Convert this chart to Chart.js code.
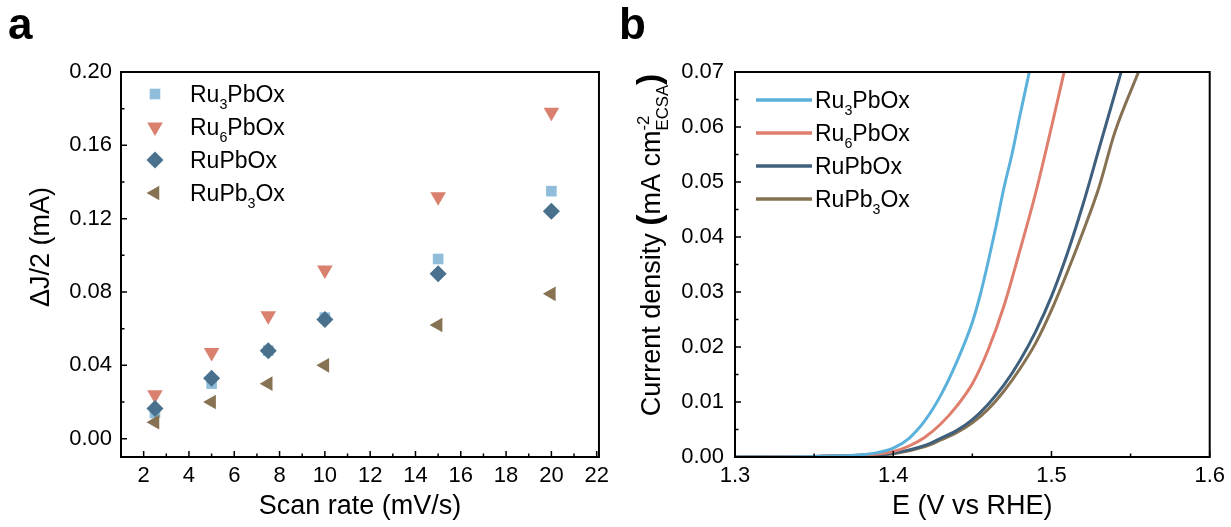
<!DOCTYPE html>
<html>
<head>
<meta charset="utf-8">
<script src="https://cdn.jsdelivr.net/npm/chart.js@4/dist/chart.umd.min.js"></script>
<style>
  html, body { margin: 0; padding: 0; background: #fff; }
  #wrap { position: relative; width: 1231px; height: 527px; }
  canvas { position: absolute; top: 0; }
  #chartA { left: 0; }
  #chartB { left: 615px; }
</style>
</head>
<body>
<div id="wrap">
  <canvas id="chartA" width="615" height="527"></canvas>
  <canvas id="chartB" width="616" height="527"></canvas>
</div>
<script>
// ---- data, panel a (double layer charging current vs scan rate) ----
const scanRates = [2.5, 5, 7.5, 10, 15, 20];
const ru3PbOxDJ = [0.014, 0.030, 0.048, 0.066, 0.098, 0.135];
const ru6PbOxDJ = [0.024, 0.047, 0.067, 0.092, 0.132, 0.178];
const ruPbOxDJ = [0.0165, 0.033, 0.048, 0.065, 0.090, 0.124];
const ruPb3OxDJ = [0.009, 0.020, 0.030, 0.040, 0.062, 0.079];
const seriesNames = ["Ru3PbOx", "Ru6PbOx", "RuPbOx", "RuPb3Ox"];
const xTicksA = [2, 4, 6, 8, 10, 12, 14, 16, 18, 20, 22];
const yTicksA = [0, 0.04, 0.08, 0.12, 0.16, 0.20];

// ---- data, panel b (ECSA normalised LSV) ----
const ru3PbOxE = [1.30, 1.35, 1.38, 1.39, 1.40, 1.41, 1.42, 1.43, 1.44, 1.45, 1.455, 1.46, 1.465, 1.47, 1.475, 1.48, 1.486];
const ru3PbOxJ = [0, 0.0001, 0.0004, 0.0008, 0.0016, 0.0034, 0.0066, 0.0112, 0.0172, 0.0245, 0.0295, 0.0355, 0.042, 0.049, 0.055, 0.062, 0.070];
const ru6PbOxE = [1.30, 1.35, 1.38, 1.40, 1.41, 1.42, 1.43, 1.44, 1.45, 1.46, 1.47, 1.48, 1.49, 1.50, 1.508];
const ru6PbOxJ = [0, 0.0001, 0.0003, 0.001, 0.002, 0.0036, 0.006, 0.0092, 0.0133, 0.0195, 0.0275, 0.0375, 0.048, 0.060, 0.070];
const ruPbOxE = [1.30, 1.35, 1.38, 1.40, 1.42, 1.43, 1.44, 1.45, 1.46, 1.47, 1.48, 1.49, 1.50, 1.51, 1.52, 1.53, 1.544];
const ruPbOxJ = [0, 0.0001, 0.0003, 0.0007, 0.0021, 0.0034, 0.0048, 0.0068, 0.0096, 0.0131, 0.0175, 0.0228, 0.0292, 0.037, 0.046, 0.056, 0.070];
const ruPb3OxE = [1.30, 1.35, 1.38, 1.40, 1.42, 1.43, 1.44, 1.45, 1.46, 1.47, 1.48, 1.49, 1.50, 1.51, 1.52, 1.53, 1.54, 1.555];
const ruPb3OxJ = [0, 0.0001, 0.0003, 0.0006, 0.0019, 0.0031, 0.0044, 0.0062, 0.0087, 0.012, 0.016, 0.0207, 0.0267, 0.0336, 0.041, 0.049, 0.059, 0.070];
const xTicksB = [1.3, 1.4, 1.5, 1.6];
const yTicksB = [0, 0.01, 0.02, 0.03, 0.04, 0.05, 0.06, 0.07];

// ---- styles ----
const FONT = "'Liberation Sans', Arial, Helvetica, sans-serif";
const markerColors = ["#8fbdda", "#d9806e", "#49708d", "#877353"];
const lineColors = ["#5ab1db", "#df7e6c", "#3f607d", "#867252"];
const markers = [
  { pointStyle: "rect", rotation: 0, radius: 7.5 },
  { pointStyle: "triangle", rotation: 180, radius: 9 },
  { pointStyle: "rectRot", rotation: 0, radius: 8.5 },
  { pointStyle: "triangle", rotation: 270, radius: 8.5 }
];

// text with sub/superscripts; baseline at y
function drawRich(ctx, parts, x, y, size, align) {
  const placed = [];
  let cx = 0, total = 0, prevStart = 0;
  parts.forEach(p => {
    const small = p.kind === "sub" || p.kind === "sup";
    const fs = small ? size * 0.62 : size * (p.scale || 1);
    ctx.font = (p.bold ? "bold " : "") + fs + "px " + FONT;
    const start = p.stack ? prevStart : cx;
    const w = ctx.measureText(p.t).width;
    const dy = p.kind === "sub" ? size * 0.3 : p.kind === "sup" ? -size * 0.42 : 0;
    placed.push({ t: p.t, font: ctx.font, x: start, dy });
    prevStart = start;
    cx = Math.max(cx, start + w);
    total = cx;
  });
  const x0 = align === "center" ? x - total / 2 : x;
  ctx.textAlign = "left";
  ctx.textBaseline = "alphabetic";
  placed.forEach(p => {
    ctx.font = p.font;
    ctx.fillText(p.t, x0 + p.x, y + p.dy);
  });
}

function nameParts(name) {
  return name.split(/(\d+)/).filter(Boolean).map(t => ({ t, kind: /^\d+$/.test(t) ? "sub" : "n" }));
}

function midpoints(list) {
  const out = [];
  for (let i = 0; i < list.length - 1; i++) out.push((list[i] + list[i + 1]) / 2);
  return out;
}

function framePlugin(cfg) {
  return {
    id: "frame",
    afterDraw(chart) {
      const { ctx, chartArea: a } = chart;
      const x = chart.scales.x, y = chart.scales.y;
      ctx.save();
      ctx.strokeStyle = "#000";
      ctx.lineWidth = 2;
      ctx.strokeRect(a.left, a.top, a.right - a.left, a.bottom - a.top);

      // inward ticks on bottom and left
      ctx.lineWidth = 1.5;
      ctx.beginPath();
      const tickX = (v, len) => { const p = x.getPixelForValue(v); ctx.moveTo(p, a.bottom); ctx.lineTo(p, a.bottom - len); };
      const tickY = (v, len) => { const p = y.getPixelForValue(v); ctx.moveTo(a.left, p); ctx.lineTo(a.left + len, p); };
      cfg.xMajor.forEach(v => tickX(v, 6));
      cfg.xMinor.forEach(v => tickX(v, 3.5));
      cfg.yMajor.forEach(v => tickY(v, 6));
      cfg.yMinor.forEach(v => tickY(v, 3.5));
      ctx.stroke();

      ctx.fillStyle = "#000";
      // x title
      ctx.font = "27px " + FONT;
      ctx.textAlign = "center";
      ctx.textBaseline = "middle";
      ctx.fillText(cfg.xTitle, (a.left + a.right) / 2, 507);
      // y title
      ctx.save();
      ctx.translate(cfg.yTitleX, cfg.yTitleY);
      ctx.rotate(-Math.PI / 2);
      drawRich(ctx, cfg.yTitle, 0, 9, 27, "center");
      ctx.restore();

      // legend
      chart.data.datasets.forEach((ds, i) => {
        const ly = cfg.legendY0 + cfg.legendDy * i;
        if (cfg.legendKind === "marker") {
          ctx.fillStyle = ds.backgroundColor;
          Chart.helpers.drawPoint(ctx, { pointStyle: ds.pointStyle, rotation: ds.rotation, radius: ds.pointRadius, borderWidth: 0 }, cfg.legendX, ly);
        } else {
          ctx.strokeStyle = ds.borderColor;
          ctx.lineWidth = 3.5;
          ctx.beginPath();
          ctx.moveTo(cfg.legendX, ly);
          ctx.lineTo(cfg.legendX + 56, ly);
          ctx.stroke();
        }
        ctx.fillStyle = "#000";
        drawRich(ctx, nameParts(ds.label), cfg.legendTextX, ly + 8, 23, "left");
      });

      // panel letter
      ctx.font = "bold 44px " + FONT;
      ctx.textAlign = "left";
      ctx.textBaseline = "alphabetic";
      ctx.fillText(cfg.letter, cfg.letterX, 39);
      ctx.restore();
    }
  };
}

const tickFont = { family: FONT, size: 22 };

// ---------- panel a ----------
const dataA = [ru3PbOxDJ, ru6PbOxDJ, ruPbOxDJ, ruPb3OxDJ];
new Chart(document.getElementById("chartA"), {
  type: "scatter",
  data: {
    datasets: seriesNames.map((name, i) => ({
      label: name,
      data: scanRates.map((r, k) => ({ x: r, y: dataA[i][k] })),
      pointStyle: markers[i].pointStyle,
      rotation: markers[i].rotation,
      pointRadius: markers[i].radius,
      pointHoverRadius: markers[i].radius,
      backgroundColor: markerColors[i],
      borderColor: markerColors[i],
      borderWidth: 0,
      order: 4 - i
    }))
  },
  options: {
    responsive: false,
    animation: false,
    events: [],
    layout: { padding: { left: 0, top: 72, right: 15, bottom: 0 } },
    plugins: { legend: { display: false }, tooltip: { enabled: false } },
    scales: {
      x: {
        type: "linear", min: 1, max: 22.1,
        afterBuildTicks: s => { s.ticks = xTicksA.map(v => ({ value: v })); },
        afterFit: s => { s.height = 70; },
        grid: { display: false, drawTicks: false },
        border: { display: false },
        ticks: { padding: 6, font: tickFont, color: "#000", maxRotation: 0 }
      },
      y: {
        type: "linear", min: -0.01, max: 0.20,
        afterBuildTicks: s => { s.ticks = yTicksA.map(v => ({ value: v })); },
        afterFit: s => { s.width = 121; },
        grid: { display: false, drawTicks: false },
        border: { display: false },
        ticks: { padding: 9, font: tickFont, color: "#000", callback: v => v.toFixed(2) }
      }
    }
  },
  plugins: [framePlugin({
    xMajor: xTicksA, xMinor: [1].concat(midpoints(xTicksA)),
    yMajor: yTicksA, yMinor: midpoints(yTicksA),
    xTitle: "Scan rate (mV/s)",
    yTitle: [{ t: "\u0394J/2 (mA)", kind: "n" }], yTitleX: 40, yTitleY: 247,
    legendKind: "marker", legendX: 155, legendTextX: 190, legendY0: 94, legendDy: 33,
    letter: "a", letterX: 8
  })]
});

// ---------- panel b ----------
const seriesB = [[ru3PbOxE, ru3PbOxJ], [ru6PbOxE, ru6PbOxJ], [ruPbOxE, ruPbOxJ], [ruPb3OxE, ruPb3OxJ]];
new Chart(document.getElementById("chartB"), {
  type: "line",
  data: {
    datasets: seriesNames.map((name, i) => ({
      label: name,
      data: seriesB[i][0].map((e, k) => ({ x: e, y: seriesB[i][1][k] })),
      borderColor: lineColors[i],
      backgroundColor: lineColors[i],
      borderWidth: 3,
      pointRadius: 0,
      cubicInterpolationMode: "monotone",
      fill: false
    }))
  },
  options: {
    responsive: false,
    animation: false,
    events: [],
    layout: { padding: { left: 0, top: 72, right: 19, bottom: 0 } },
    plugins: { legend: { display: false }, tooltip: { enabled: false } },
    scales: {
      x: {
        type: "linear", min: 1.3, max: 1.6,
        afterBuildTicks: s => { s.ticks = xTicksB.map(v => ({ value: v })); },
        afterFit: s => { s.height = 70; },
        grid: { display: false, drawTicks: false },
        border: { display: false },
        ticks: { padding: 6, font: tickFont, color: "#000", maxRotation: 0, callback: v => v.toFixed(1) }
      },
      y: {
        type: "linear", min: 0, max: 0.07,
        afterBuildTicks: s => { s.ticks = yTicksB.map(v => ({ value: v })); },
        afterFit: s => { s.width = 120; },
        grid: { display: false, drawTicks: false },
        border: { display: false },
        ticks: { padding: 11, font: tickFont, color: "#000", callback: v => v.toFixed(2) }
      }
    }
  },
  plugins: [framePlugin({
    xMajor: xTicksB, xMinor: midpoints(xTicksB),
    yMajor: yTicksB, yMinor: midpoints(yTicksB),
    xTitle: "E (V vs RHE)",
    yTitle: [
      { t: "Current density ", kind: "n" },
      { t: "(", kind: "n", bold: true, scale: 1.25 },
      { t: "mA cm", kind: "n" },
      { t: "-2", kind: "sup" },
      { t: "ECSA", kind: "sub", stack: true },
      { t: ")", kind: "n", bold: true, scale: 1.25 }
    ],
    yTitleX: 36, yTitleY: 245,
    legendKind: "line", legendX: 141, legendTextX: 200, legendY0: 100, legendDy: 33,
    letter: "b", letterX: 4
  })]
});
</script>
</body>
</html>
